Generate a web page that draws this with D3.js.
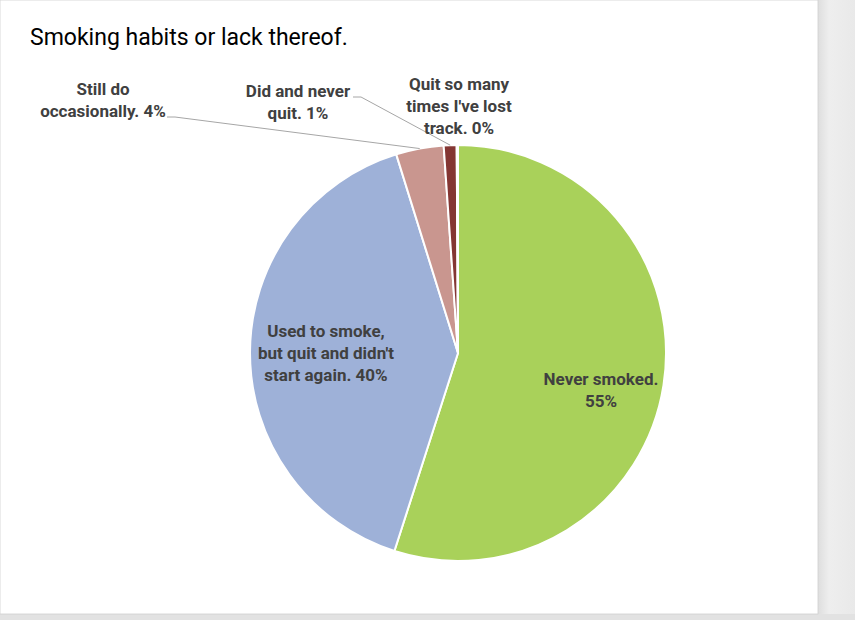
<!DOCTYPE html>
<html>
<head>
<meta charset="utf-8">
<script src="https://cdn.jsdelivr.net/npm/d3@7"></script>
<style>
  body { margin: 0; background: #e9e9e9; }
  svg { display: block; }
</style>
</head>
<body>
<div id="chart-area"></div>
<script>
// Datos del gráfico
var categories = ["Never smoked.", "Used to smoke, but quit and didn't start again.",
                  "Still do occasionally.", "Did and never quit.", "Quit so many times I've lost track."];
var shares = [55.0, 40.3, 3.7, 1.0, 0.1];
var colors = ["#a9d15a", "#9eb1d8", "#c9968f", "#843633", "#c8b560"];
// Texto de cada etiqueta, "{p}" se cambia por el porcentaje
var labelLines = [
    ["Never smoked.", "{p}"],
    ["Used to smoke,", "but quit and didn't", "start again. {p}"],
    ["Still do", "occasionally. {p}"],
    ["Did and never", "quit. {p}"],
    ["Quit so many", "times I've lost", "track. {p}"]
];

// Posición de las etiquetas (primera línea base) y de las líneas guía
var labelPos = [
    { x: 601, y: 385 },
    { x: 326, y: 337 },
    { x: 103, y: 95, lead: [167, 117] },
    { x: 298, y: 97, lead: [353, 97] },
    { x: 459, y: 90 }
];

var W = 855, H = 620;
var cx = 458, cy = 353, R = 208;

var svg = d3.select("#chart-area")
    .append("svg")
    .attr("width", W)
    .attr("height", H);

// Fondo gris con sombra a la derecha y zona blanca del gráfico
var defs = svg.append("defs");
var shade = defs.append("linearGradient").attr("id", "shade");
shade.append("stop").attr("offset", "0%").attr("stop-color", "#dedede");
shade.append("stop").attr("offset", "30%").attr("stop-color", "#eeeeee");
shade.append("stop").attr("offset", "100%").attr("stop-color", "#e9e9e9");

svg.append("rect").attr("x", 818).attr("y", 0).attr("width", W - 818).attr("height", H)
    .attr("fill", "url(#shade)");
svg.append("rect").attr("x", 0).attr("y", 614).attr("width", W).attr("height", H - 614)
    .attr("fill", "#e2e2e2");
svg.append("rect").attr("x", 0).attr("y", 0).attr("width", 818).attr("height", 614)
    .attr("fill", "#ffffff")
    .attr("stroke", "#d0d0d0")
    .attr("stroke-width", 0.8);

// Título
svg.append("text")
    .attr("x", 30)
    .attr("y", 45)
    .style("font-family", "Roboto, 'Open Sans', sans-serif")
    .style("font-size", "23px")
    .attr("fill", "#000")
    .text("Smoking habits or lack thereof.");

var total = d3.sum(shares);
var pie = d3.pie().sort(null).value(function(d) { return d; });
var arcs = pie(shares);

var arc = d3.arc().innerRadius(0).outerRadius(R);
var edgeArc = d3.arc().innerRadius(R).outerRadius(R);

var g = svg.append("g")
    .attr("transform", "translate(" + cx + "," + cy + ")");

g.selectAll("path.slice")
    .data(arcs)
    .enter().append("path")
    .attr("class", "slice")
    .attr("d", arc)
    .attr("fill", function(d, i) { return colors[i]; })
    .attr("stroke", "#ffffff")
    .attr("stroke-width", 2)
    .attr("stroke-linejoin", "round");

// Líneas guía para etiquetas exteriores
arcs.forEach(function(d, i) {
    var p = labelPos[i];
    if (!p.lead) return;
    var end = edgeArc.centroid(d);
    var pts = [
        [p.lead[0], p.lead[1]],
        [p.lead[0] + 8, p.lead[1]],
        [cx + end[0], cy + end[1]]
    ];
    svg.append("path")
        .attr("d", d3.line()(pts))
        .attr("fill", "none")
        .attr("stroke", "#a6a6a6")
        .attr("stroke-width", 1);
});

// Etiquetas
arcs.forEach(function(d, i) {
    var pct = Math.round(shares[i] / total * 100) + "%";
    var p = labelPos[i];
    var t = svg.append("text")
        .attr("text-anchor", "middle")
        .style("font-family", "Roboto, 'Open Sans', sans-serif")
        .style("font-size", "17px")
        .style("font-weight", "bold")
        .attr("fill", "#404040");
    labelLines[i].forEach(function(line, k) {
        t.append("tspan")
            .attr("x", p.x)
            .attr("y", p.y + k * 22)
            .text(line.replace("{p}", pct));
    });
});
</script>
</body>
</html>
